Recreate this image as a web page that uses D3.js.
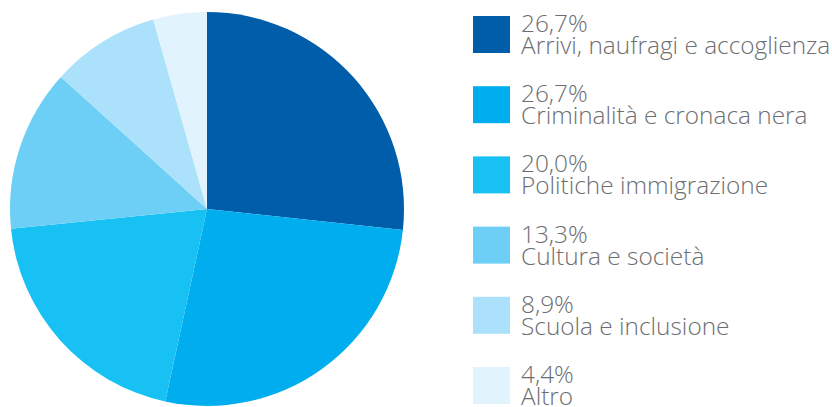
<!DOCTYPE html>
<meta charset="utf-8">
<script src="https://d3js.org/d3.v7.min.js"></script>
<style>
  body { margin: 0; background: #fff; }
</style>
<div id="pie"></div>
<script>

// data
var categories = ["Arrivi, naufragi e accoglienza", "Criminalità e cronaca nera", "Politiche immigrazione",
                  "Cultura e società", "Scuola e inclusione", "Altro"];
var values = [26.7, 26.7, 20.0, 13.3, 8.9, 4.4];
var colors = ["#005daa", "#00aeef", "#17c1f3", "#6dcff6", "#abe1fa", "#e1f3fc"];

var width = 832, height = 407;
var radius = 197;

var svg = d3.select("#pie")
  .append("svg")
    .attr("width", width)
    .attr("height", height);

var color = d3.scaleOrdinal().domain(categories).range(colors);

var pie = d3.pie()
  .sort(null)
  .value(function(d, i) { return values[i]; });

var arc = d3.arc().innerRadius(0).outerRadius(radius);

var g = svg.append("g")
  .attr("transform", "translate(207,209)");

g.selectAll("path")
  .data(pie(categories))
  .enter()
  .append("path")
    .attr("d", arc)
    .attr("fill", function(d) { return color(d.data); });

// legend
var legend = svg.append("g")
    .attr("transform", "translate(473,16)")
  .selectAll("g")
  .data(categories)
  .enter().append("g")
    .attr("transform", function(d, i) { return "translate(0," + i * 70.2 + ")"; });

legend.append("rect")
  .attr("width", 37)
  .attr("height", 37)
  .attr("fill", function(d) { return color(d); });

var fmt = function(v) { return v.toFixed(1).replace(".", ",") + "%"; };

legend.append("text")
  .attr("x", 48)
  .attr("y", 16)
  .style("font-family", "Open Sans")
  .style("font-weight", 300)
  .style("font-size", "24.4px")
  .style("fill", "#6d6e71")
  .text(function(d, i) { return fmt(values[i]); });

legend.append("text")
  .attr("x", 48)
  .attr("y", 38)
  .style("font-family", "Open Sans")
  .style("font-weight", 300)
  .style("font-size", "24.4px")
  .style("fill", "#6d6e71")
  .text(function(d) { return d; });

</script>
